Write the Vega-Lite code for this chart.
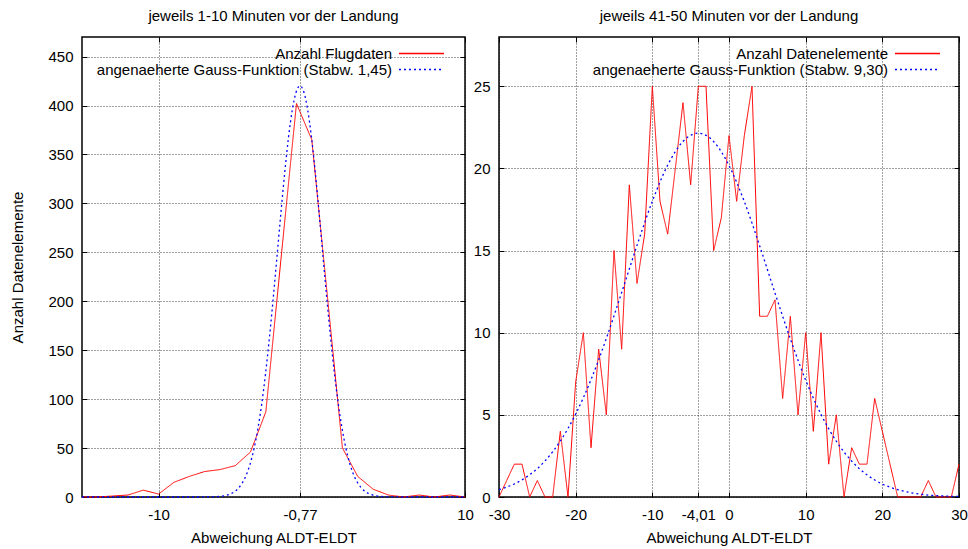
{
  "$schema": "https://vega.github.io/schema/vega-lite/v6.json",
  "background": "white",
  "autosize": {"type": "pad"},
  "padding": {"left": 10, "top": 7, "right": 5, "bottom": 5},
  "bounds": "flush",
  "spacing": 34,
  "config": {
    "font": "Liberation Sans",
    "view": {"stroke": "#000", "strokeWidth": 1.5},
    "title": {"font": "Liberation Sans", "fontSize": 15, "fontWeight": "normal", "color": "#000", "anchor": "middle", "offset": 13},
    "axis": {
      "labelFont": "Liberation Sans", "labelFontSize": 15, "labelColor": "#000",
      "titleFont": "Liberation Sans", "titleFontSize": 15, "titleFontWeight": "normal", "titleColor": "#000",
      "domain": false, "tickColor": "#000", "tickSize": -5, "tickWidth": 1,
      "gridColor": "#000", "gridDash": [1, 2], "gridOpacity": 0.75, "gridWidth": 1
    },
    "axisX": {"labelPadding": 15, "titlePadding": 8, "labelFlush": false},
    "axisY": {"labelPadding": 14, "titlePadding": 22},
    "legend": {
      "labelFont": "Liberation Sans", "labelFontSize": 15, "labelColor": "#000",
      "labelAlign": "right", "labelOffset": -37, "labelLimit": 0,
      "symbolType": "M-5,0H5", "symbolSize": 81, "symbolStrokeWidth": 1.5,
      "rowPadding": -2, "padding": 0, "title": null
    }
  },
  "datasets": {
    "flug": [
      {"abw": -15, "anzahl": 0, "reihe": "Anzahl Flugdaten"},
      {"abw": -14, "anzahl": 0, "reihe": "Anzahl Flugdaten"},
      {"abw": -13, "anzahl": 1, "reihe": "Anzahl Flugdaten"},
      {"abw": -12, "anzahl": 2, "reihe": "Anzahl Flugdaten"},
      {"abw": -11, "anzahl": 7, "reihe": "Anzahl Flugdaten"},
      {"abw": -10, "anzahl": 3, "reihe": "Anzahl Flugdaten"},
      {"abw": -9, "anzahl": 15, "reihe": "Anzahl Flugdaten"},
      {"abw": -8, "anzahl": 21, "reihe": "Anzahl Flugdaten"},
      {"abw": -7, "anzahl": 26, "reihe": "Anzahl Flugdaten"},
      {"abw": -6, "anzahl": 28, "reihe": "Anzahl Flugdaten"},
      {"abw": -5, "anzahl": 32, "reihe": "Anzahl Flugdaten"},
      {"abw": -4, "anzahl": 46, "reihe": "Anzahl Flugdaten"},
      {"abw": -3, "anzahl": 87, "reihe": "Anzahl Flugdaten"},
      {"abw": -2, "anzahl": 245, "reihe": "Anzahl Flugdaten"},
      {"abw": -1, "anzahl": 402, "reihe": "Anzahl Flugdaten"},
      {"abw": 0, "anzahl": 365, "reihe": "Anzahl Flugdaten"},
      {"abw": 1, "anzahl": 208, "reihe": "Anzahl Flugdaten"},
      {"abw": 2, "anzahl": 50, "reihe": "Anzahl Flugdaten"},
      {"abw": 3, "anzahl": 21, "reihe": "Anzahl Flugdaten"},
      {"abw": 4, "anzahl": 8, "reihe": "Anzahl Flugdaten"},
      {"abw": 5, "anzahl": 2, "reihe": "Anzahl Flugdaten"},
      {"abw": 6, "anzahl": 0, "reihe": "Anzahl Flugdaten"},
      {"abw": 7, "anzahl": 2, "reihe": "Anzahl Flugdaten"},
      {"abw": 8, "anzahl": 0, "reihe": "Anzahl Flugdaten"},
      {"abw": 9, "anzahl": 2, "reihe": "Anzahl Flugdaten"},
      {"abw": 10, "anzahl": 0, "reihe": "Anzahl Flugdaten"}
    ],
    "gaussLinks": [
      {"abw": -15, "anzahl": 0, "reihe": "angenaeherte Gauss-Funktion (Stabw. 1,45)"},
      {"abw": -7.77, "anzahl": 0, "reihe": "angenaeherte Gauss-Funktion (Stabw. 1,45)"},
      {"abw": -6.77, "anzahl": 0.08, "reihe": "angenaeherte Gauss-Funktion (Stabw. 1,45)"},
      {"abw": -6.27, "anzahl": 0.32, "reihe": "angenaeherte Gauss-Funktion (Stabw. 1,45)"},
      {"abw": -5.77, "anzahl": 1.1, "reihe": "angenaeherte Gauss-Funktion (Stabw. 1,45)"},
      {"abw": -5.27, "anzahl": 3.4, "reihe": "angenaeherte Gauss-Funktion (Stabw. 1,45)"},
      {"abw": -4.77, "anzahl": 9.35, "reihe": "angenaeherte Gauss-Funktion (Stabw. 1,45)"},
      {"abw": -4.52, "anzahl": 14.8, "reihe": "angenaeherte Gauss-Funktion (Stabw. 1,45)"},
      {"abw": -4.27, "anzahl": 22.8, "reihe": "angenaeherte Gauss-Funktion (Stabw. 1,45)"},
      {"abw": -4.02, "anzahl": 34.1, "reihe": "angenaeherte Gauss-Funktion (Stabw. 1,45)"},
      {"abw": -3.77, "anzahl": 49.4, "reihe": "angenaeherte Gauss-Funktion (Stabw. 1,45)"},
      {"abw": -3.52, "anzahl": 69.6, "reihe": "angenaeherte Gauss-Funktion (Stabw. 1,45)"},
      {"abw": -3.27, "anzahl": 95.0, "reihe": "angenaeherte Gauss-Funktion (Stabw. 1,45)"},
      {"abw": -3.02, "anzahl": 126.0, "reihe": "angenaeherte Gauss-Funktion (Stabw. 1,45)"},
      {"abw": -2.77, "anzahl": 162.3, "reihe": "angenaeherte Gauss-Funktion (Stabw. 1,45)"},
      {"abw": -2.52, "anzahl": 202.7, "reihe": "angenaeherte Gauss-Funktion (Stabw. 1,45)"},
      {"abw": -2.27, "anzahl": 246.0, "reihe": "angenaeherte Gauss-Funktion (Stabw. 1,45)"},
      {"abw": -2.02, "anzahl": 289.6, "reihe": "angenaeherte Gauss-Funktion (Stabw. 1,45)"},
      {"abw": -1.77, "anzahl": 331.1, "reihe": "angenaeherte Gauss-Funktion (Stabw. 1,45)"},
      {"abw": -1.52, "anzahl": 367.4, "reihe": "angenaeherte Gauss-Funktion (Stabw. 1,45)"},
      {"abw": -1.27, "anzahl": 395.8, "reihe": "angenaeherte Gauss-Funktion (Stabw. 1,45)"},
      {"abw": -1.02, "anzahl": 413.8, "reihe": "angenaeherte Gauss-Funktion (Stabw. 1,45)"},
      {"abw": -0.77, "anzahl": 420.0, "reihe": "angenaeherte Gauss-Funktion (Stabw. 1,45)"},
      {"abw": -0.52, "anzahl": 413.8, "reihe": "angenaeherte Gauss-Funktion (Stabw. 1,45)"},
      {"abw": -0.27, "anzahl": 395.8, "reihe": "angenaeherte Gauss-Funktion (Stabw. 1,45)"},
      {"abw": -0.02, "anzahl": 367.4, "reihe": "angenaeherte Gauss-Funktion (Stabw. 1,45)"},
      {"abw": 0.23, "anzahl": 331.1, "reihe": "angenaeherte Gauss-Funktion (Stabw. 1,45)"},
      {"abw": 0.48, "anzahl": 289.6, "reihe": "angenaeherte Gauss-Funktion (Stabw. 1,45)"},
      {"abw": 0.73, "anzahl": 246.0, "reihe": "angenaeherte Gauss-Funktion (Stabw. 1,45)"},
      {"abw": 0.98, "anzahl": 202.7, "reihe": "angenaeherte Gauss-Funktion (Stabw. 1,45)"},
      {"abw": 1.23, "anzahl": 162.3, "reihe": "angenaeherte Gauss-Funktion (Stabw. 1,45)"},
      {"abw": 1.48, "anzahl": 126.0, "reihe": "angenaeherte Gauss-Funktion (Stabw. 1,45)"},
      {"abw": 1.73, "anzahl": 95.0, "reihe": "angenaeherte Gauss-Funktion (Stabw. 1,45)"},
      {"abw": 1.98, "anzahl": 69.6, "reihe": "angenaeherte Gauss-Funktion (Stabw. 1,45)"},
      {"abw": 2.23, "anzahl": 49.4, "reihe": "angenaeherte Gauss-Funktion (Stabw. 1,45)"},
      {"abw": 2.48, "anzahl": 34.1, "reihe": "angenaeherte Gauss-Funktion (Stabw. 1,45)"},
      {"abw": 2.73, "anzahl": 22.8, "reihe": "angenaeherte Gauss-Funktion (Stabw. 1,45)"},
      {"abw": 2.98, "anzahl": 14.8, "reihe": "angenaeherte Gauss-Funktion (Stabw. 1,45)"},
      {"abw": 3.23, "anzahl": 9.35, "reihe": "angenaeherte Gauss-Funktion (Stabw. 1,45)"},
      {"abw": 3.73, "anzahl": 3.4, "reihe": "angenaeherte Gauss-Funktion (Stabw. 1,45)"},
      {"abw": 4.23, "anzahl": 1.1, "reihe": "angenaeherte Gauss-Funktion (Stabw. 1,45)"},
      {"abw": 4.73, "anzahl": 0.32, "reihe": "angenaeherte Gauss-Funktion (Stabw. 1,45)"},
      {"abw": 5.23, "anzahl": 0.08, "reihe": "angenaeherte Gauss-Funktion (Stabw. 1,45)"},
      {"abw": 6.23, "anzahl": 0, "reihe": "angenaeherte Gauss-Funktion (Stabw. 1,45)"},
      {"abw": 10, "anzahl": 0, "reihe": "angenaeherte Gauss-Funktion (Stabw. 1,45)"}
    ],
    "daten": [
      {"abw": -30, "anzahl": 0, "reihe": "Anzahl Datenelemente"},
      {"abw": -29, "anzahl": 1, "reihe": "Anzahl Datenelemente"},
      {"abw": -28, "anzahl": 2, "reihe": "Anzahl Datenelemente"},
      {"abw": -27, "anzahl": 2, "reihe": "Anzahl Datenelemente"},
      {"abw": -26, "anzahl": 0, "reihe": "Anzahl Datenelemente"},
      {"abw": -25, "anzahl": 1, "reihe": "Anzahl Datenelemente"},
      {"abw": -24, "anzahl": 0, "reihe": "Anzahl Datenelemente"},
      {"abw": -23, "anzahl": 0, "reihe": "Anzahl Datenelemente"},
      {"abw": -22, "anzahl": 4, "reihe": "Anzahl Datenelemente"},
      {"abw": -21, "anzahl": 0, "reihe": "Anzahl Datenelemente"},
      {"abw": -20, "anzahl": 7, "reihe": "Anzahl Datenelemente"},
      {"abw": -19, "anzahl": 10, "reihe": "Anzahl Datenelemente"},
      {"abw": -18, "anzahl": 3, "reihe": "Anzahl Datenelemente"},
      {"abw": -17, "anzahl": 9, "reihe": "Anzahl Datenelemente"},
      {"abw": -16, "anzahl": 5, "reihe": "Anzahl Datenelemente"},
      {"abw": -15, "anzahl": 15, "reihe": "Anzahl Datenelemente"},
      {"abw": -14, "anzahl": 9, "reihe": "Anzahl Datenelemente"},
      {"abw": -13, "anzahl": 19, "reihe": "Anzahl Datenelemente"},
      {"abw": -12, "anzahl": 13, "reihe": "Anzahl Datenelemente"},
      {"abw": -11, "anzahl": 16, "reihe": "Anzahl Datenelemente"},
      {"abw": -10, "anzahl": 25, "reihe": "Anzahl Datenelemente"},
      {"abw": -9, "anzahl": 18, "reihe": "Anzahl Datenelemente"},
      {"abw": -8, "anzahl": 16, "reihe": "Anzahl Datenelemente"},
      {"abw": -7, "anzahl": 20, "reihe": "Anzahl Datenelemente"},
      {"abw": -6, "anzahl": 24, "reihe": "Anzahl Datenelemente"},
      {"abw": -5, "anzahl": 19, "reihe": "Anzahl Datenelemente"},
      {"abw": -4, "anzahl": 25, "reihe": "Anzahl Datenelemente"},
      {"abw": -3, "anzahl": 25, "reihe": "Anzahl Datenelemente"},
      {"abw": -2, "anzahl": 15, "reihe": "Anzahl Datenelemente"},
      {"abw": -1, "anzahl": 17, "reihe": "Anzahl Datenelemente"},
      {"abw": 0, "anzahl": 22, "reihe": "Anzahl Datenelemente"},
      {"abw": 1, "anzahl": 18, "reihe": "Anzahl Datenelemente"},
      {"abw": 2, "anzahl": 22, "reihe": "Anzahl Datenelemente"},
      {"abw": 3, "anzahl": 25, "reihe": "Anzahl Datenelemente"},
      {"abw": 4, "anzahl": 11, "reihe": "Anzahl Datenelemente"},
      {"abw": 5, "anzahl": 11, "reihe": "Anzahl Datenelemente"},
      {"abw": 6, "anzahl": 12, "reihe": "Anzahl Datenelemente"},
      {"abw": 7, "anzahl": 6, "reihe": "Anzahl Datenelemente"},
      {"abw": 8, "anzahl": 11, "reihe": "Anzahl Datenelemente"},
      {"abw": 9, "anzahl": 5, "reihe": "Anzahl Datenelemente"},
      {"abw": 10, "anzahl": 10, "reihe": "Anzahl Datenelemente"},
      {"abw": 11, "anzahl": 4, "reihe": "Anzahl Datenelemente"},
      {"abw": 12, "anzahl": 10, "reihe": "Anzahl Datenelemente"},
      {"abw": 13, "anzahl": 2, "reihe": "Anzahl Datenelemente"},
      {"abw": 14, "anzahl": 5, "reihe": "Anzahl Datenelemente"},
      {"abw": 15, "anzahl": 0, "reihe": "Anzahl Datenelemente"},
      {"abw": 16, "anzahl": 3, "reihe": "Anzahl Datenelemente"},
      {"abw": 17, "anzahl": 2, "reihe": "Anzahl Datenelemente"},
      {"abw": 18, "anzahl": 2, "reihe": "Anzahl Datenelemente"},
      {"abw": 19, "anzahl": 6, "reihe": "Anzahl Datenelemente"},
      {"abw": 20, "anzahl": 4, "reihe": "Anzahl Datenelemente"},
      {"abw": 21, "anzahl": 2, "reihe": "Anzahl Datenelemente"},
      {"abw": 22, "anzahl": 0, "reihe": "Anzahl Datenelemente"},
      {"abw": 23, "anzahl": 0, "reihe": "Anzahl Datenelemente"},
      {"abw": 24, "anzahl": 0, "reihe": "Anzahl Datenelemente"},
      {"abw": 25, "anzahl": 0, "reihe": "Anzahl Datenelemente"},
      {"abw": 26, "anzahl": 1, "reihe": "Anzahl Datenelemente"},
      {"abw": 27, "anzahl": 0, "reihe": "Anzahl Datenelemente"},
      {"abw": 28, "anzahl": 0, "reihe": "Anzahl Datenelemente"},
      {"abw": 29, "anzahl": 0, "reihe": "Anzahl Datenelemente"},
      {"abw": 30, "anzahl": 2, "reihe": "Anzahl Datenelemente"}
    ],
    "gaussRechts": [
      {"abw": -30, "anzahl": 0.45, "reihe": "angenaeherte Gauss-Funktion (Stabw. 9,30)"},
      {"abw": -28.01, "anzahl": 0.79, "reihe": "angenaeherte Gauss-Funktion (Stabw. 9,30)"},
      {"abw": -26.01, "anzahl": 1.35, "reihe": "angenaeherte Gauss-Funktion (Stabw. 9,30)"},
      {"abw": -24.01, "anzahl": 2.19, "reihe": "angenaeherte Gauss-Funktion (Stabw. 9,30)"},
      {"abw": -22.01, "anzahl": 3.4, "reihe": "angenaeherte Gauss-Funktion (Stabw. 9,30)"},
      {"abw": -20.01, "anzahl": 5.04, "reihe": "angenaeherte Gauss-Funktion (Stabw. 9,30)"},
      {"abw": -18.01, "anzahl": 7.13, "reihe": "angenaeherte Gauss-Funktion (Stabw. 9,30)"},
      {"abw": -16.01, "anzahl": 9.64, "reihe": "angenaeherte Gauss-Funktion (Stabw. 9,30)"},
      {"abw": -14.01, "anzahl": 12.43, "reihe": "angenaeherte Gauss-Funktion (Stabw. 9,30)"},
      {"abw": -12.01, "anzahl": 15.3, "reihe": "angenaeherte Gauss-Funktion (Stabw. 9,30)"},
      {"abw": -10.01, "anzahl": 17.99, "reihe": "angenaeherte Gauss-Funktion (Stabw. 9,30)"},
      {"abw": -8.01, "anzahl": 20.19, "reihe": "angenaeherte Gauss-Funktion (Stabw. 9,30)"},
      {"abw": -6.01, "anzahl": 21.64, "reihe": "angenaeherte Gauss-Funktion (Stabw. 9,30)"},
      {"abw": -4.01, "anzahl": 22.15, "reihe": "angenaeherte Gauss-Funktion (Stabw. 9,30)"},
      {"abw": -2.01, "anzahl": 21.64, "reihe": "angenaeherte Gauss-Funktion (Stabw. 9,30)"},
      {"abw": -0.01, "anzahl": 20.19, "reihe": "angenaeherte Gauss-Funktion (Stabw. 9,30)"},
      {"abw": 1.99, "anzahl": 17.99, "reihe": "angenaeherte Gauss-Funktion (Stabw. 9,30)"},
      {"abw": 3.99, "anzahl": 15.3, "reihe": "angenaeherte Gauss-Funktion (Stabw. 9,30)"},
      {"abw": 5.99, "anzahl": 12.43, "reihe": "angenaeherte Gauss-Funktion (Stabw. 9,30)"},
      {"abw": 7.99, "anzahl": 9.64, "reihe": "angenaeherte Gauss-Funktion (Stabw. 9,30)"},
      {"abw": 9.99, "anzahl": 7.13, "reihe": "angenaeherte Gauss-Funktion (Stabw. 9,30)"},
      {"abw": 11.99, "anzahl": 5.04, "reihe": "angenaeherte Gauss-Funktion (Stabw. 9,30)"},
      {"abw": 13.99, "anzahl": 3.4, "reihe": "angenaeherte Gauss-Funktion (Stabw. 9,30)"},
      {"abw": 15.99, "anzahl": 2.19, "reihe": "angenaeherte Gauss-Funktion (Stabw. 9,30)"},
      {"abw": 17.99, "anzahl": 1.35, "reihe": "angenaeherte Gauss-Funktion (Stabw. 9,30)"},
      {"abw": 19.99, "anzahl": 0.79, "reihe": "angenaeherte Gauss-Funktion (Stabw. 9,30)"},
      {"abw": 21.99, "anzahl": 0.45, "reihe": "angenaeherte Gauss-Funktion (Stabw. 9,30)"},
      {"abw": 23.99, "anzahl": 0.24, "reihe": "angenaeherte Gauss-Funktion (Stabw. 9,30)"},
      {"abw": 25.99, "anzahl": 0.12, "reihe": "angenaeherte Gauss-Funktion (Stabw. 9,30)"},
      {"abw": 27.99, "anzahl": 0.06, "reihe": "angenaeherte Gauss-Funktion (Stabw. 9,30)"},
      {"abw": 30, "anzahl": 0.03, "reihe": "angenaeherte Gauss-Funktion (Stabw. 9,30)"}
    ]
  },
  "hconcat": [
    {
      "width": 383,
      "height": 460,
      "title": "jeweils 1-10 Minuten vor der Landung",
      "layer": [
        {
          "encoding": {
            "x": {"field": "abw", "type": "quantitative", "scale": {"domain": [-15, 10], "nice": false, "zero": false},
                  "axis": {"values": [-10, -0.77, 10], "labelExpr": "replace(datum.value + '', '.', ',')", "title": "Abweichung ALDT-ELDT"}},
            "y": {"field": "anzahl", "type": "quantitative", "scale": {"domain": [0, 470], "nice": false},
                  "axis": {"values": [0, 50, 100, 150, 200, 250, 300, 350, 400, 450], "title": "Anzahl Datenelemente"}},
            "color": {"field": "reihe", "type": "nominal",
                      "scale": {"domain": ["Anzahl Flugdaten", "angenaeherte Gauss-Funktion (Stabw. 1,45)"], "range": ["#ff0000", "#0000ff"]},
                      "legend": {"orient": "none", "legendX": 332, "legendY": 9,
                                 "encode": {"symbols": {"update": {"stroke": {"signal": "indexof(datum.value, 'Gauss') >= 0 ? '#0000ff' : '#ff0000'"}, "strokeDash": {"signal": "indexof(datum.value, 'Gauss') >= 0 ? [2, 3] : [1, 0]"}}}}}},
            "strokeDash": {"field": "reihe", "type": "nominal",
                      "scale": {"domain": ["Anzahl Flugdaten", "angenaeherte Gauss-Funktion (Stabw. 1,45)"], "range": [[1, 0], [2, 3]]},
                      "legend": null}
          },
          "layer": [
            {"data": {"name": "flug"}, "mark": {"type": "line", "strokeWidth": 1}},
            {"data": {"name": "gaussLinks"}, "mark": {"type": "line", "strokeWidth": 1.3, "interpolate": "monotone"}}
          ]
        },
        {
          "data": {"name": "flug"},
          "mark": {"type": "line", "opacity": 0},
          "encoding": {
            "x": {"field": "abw", "type": "quantitative", "scale": {"domain": [-15, 10], "nice": false, "zero": false},
                  "axis": {"orient": "top", "values": [-10, -0.77, 10], "labels": false, "grid": false, "title": null}},
            "y": {"field": "anzahl", "type": "quantitative", "scale": {"domain": [0, 470], "nice": false},
                  "axis": {"orient": "right", "values": [0, 50, 100, 150, 200, 250, 300, 350, 400, 450], "labels": false, "grid": false, "title": null}}
          }
        }
      ],
      "resolve": {"axis": {"x": "independent", "y": "independent"}}
    },
    {
      "width": 460,
      "height": 460,
      "title": "jeweils 41-50 Minuten vor der Landung",
      "layer": [
        {
          "encoding": {
            "x": {"field": "abw", "type": "quantitative", "scale": {"domain": [-30, 30], "nice": false, "zero": false},
                  "axis": {"values": [-30, -20, -10, -4.01, 0, 10, 20, 30], "labelExpr": "replace(datum.value + '', '.', ',')", "title": "Abweichung ALDT-ELDT"}},
            "y": {"field": "anzahl", "type": "quantitative", "scale": {"domain": [0, 28], "nice": false},
                  "axis": {"values": [0, 5, 10, 15, 20, 25], "title": null}},
            "color": {"field": "reihe", "type": "nominal",
                      "scale": {"domain": ["Anzahl Datenelemente", "angenaeherte Gauss-Funktion (Stabw. 9,30)"], "range": ["#ff0000", "#0000ff"]},
                      "legend": {"orient": "none", "legendX": 411, "legendY": 9,
                                 "encode": {"symbols": {"update": {"stroke": {"signal": "indexof(datum.value, 'Gauss') >= 0 ? '#0000ff' : '#ff0000'"}, "strokeDash": {"signal": "indexof(datum.value, 'Gauss') >= 0 ? [2, 3] : [1, 0]"}}}}}},
            "strokeDash": {"field": "reihe", "type": "nominal",
                      "scale": {"domain": ["Anzahl Datenelemente", "angenaeherte Gauss-Funktion (Stabw. 9,30)"], "range": [[1, 0], [2, 3]]},
                      "legend": null}
          },
          "layer": [
            {"data": {"name": "daten"}, "mark": {"type": "line", "strokeWidth": 1}},
            {"data": {"name": "gaussRechts"}, "mark": {"type": "line", "strokeWidth": 1.3, "interpolate": "monotone"}}
          ]
        },
        {
          "data": {"name": "daten"},
          "mark": {"type": "line", "opacity": 0},
          "encoding": {
            "x": {"field": "abw", "type": "quantitative", "scale": {"domain": [-30, 30], "nice": false, "zero": false},
                  "axis": {"orient": "top", "values": [-30, -20, -10, -4.01, 0, 10, 20, 30], "labels": false, "grid": false, "title": null}},
            "y": {"field": "anzahl", "type": "quantitative", "scale": {"domain": [0, 28], "nice": false},
                  "axis": {"orient": "right", "values": [0, 5, 10, 15, 20, 25], "labels": false, "grid": false, "title": null}}
          }
        }
      ],
      "resolve": {"axis": {"x": "independent", "y": "independent"}}
    }
  ],
  "resolve": {"scale": {"color": "independent", "strokeDash": "independent"}}
}
